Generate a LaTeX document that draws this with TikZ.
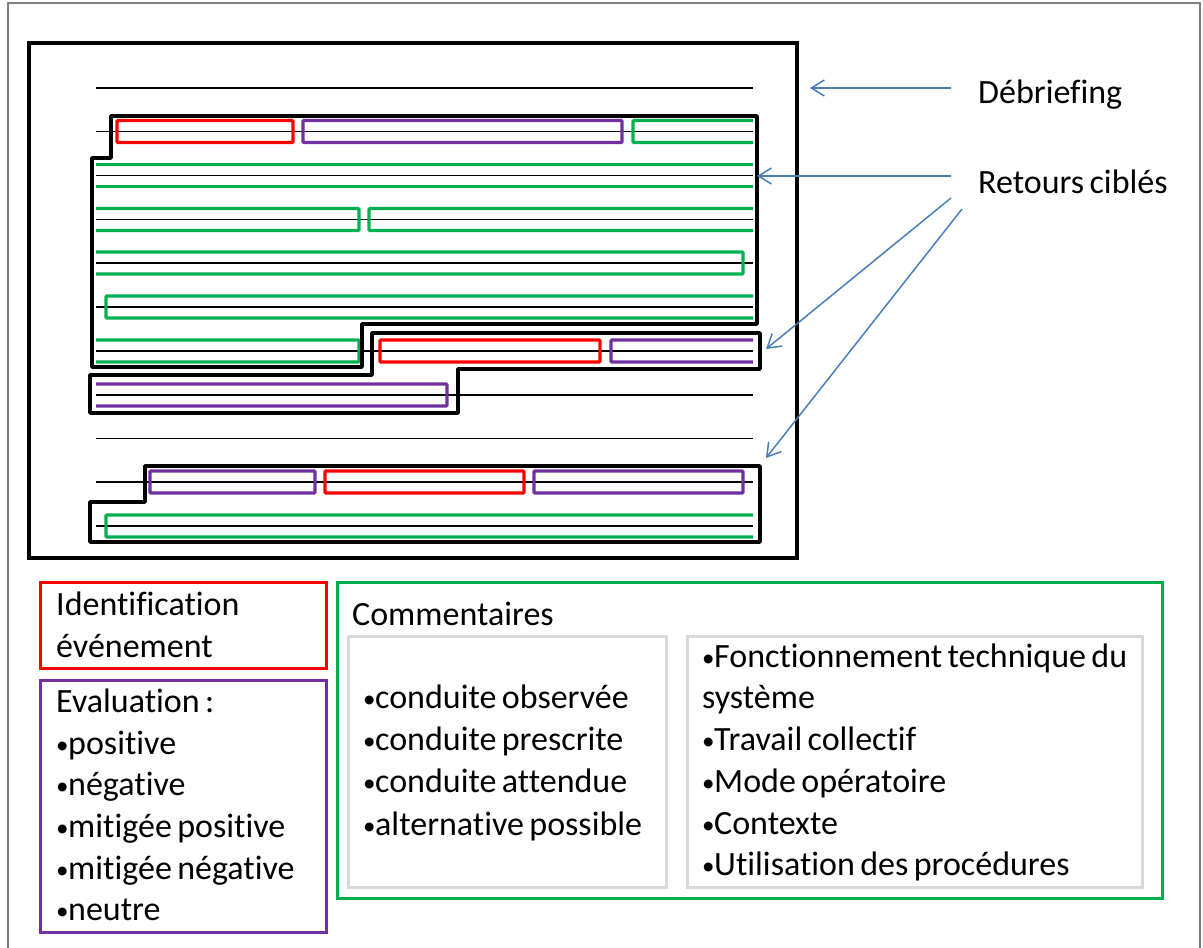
\documentclass[tikz,border=0pt]{standalone}
\usepackage{fontspec}
\setmainfont{Carlito}[Ligatures=CommonOff, WordSpace=0.7]
\usetikzlibrary{arrows.meta}
\definecolor{boxred}{HTML}{FF0000}
\definecolor{boxpurple}{HTML}{7030A0}
\definecolor{boxgreen}{HTML}{00B050}
\definecolor{arrblue}{HTML}{4A7EBB}
\definecolor{boxgray}{HTML}{D9D9D9}
\definecolor{framegray}{HTML}{7F7F7F}
\newcommand{\bul}{\makebox[12pt][l]{\raisebox{0.8pt}{\fontsize{25}{25}\selectfont •}}}
\begin{document}
\begin{tikzpicture}[x=1pt,y=-1pt,
  txtline/.style={line width=1.5pt},
  outl/.style={line width=3.8pt, line join=round},
  rbox/.style={draw=boxred, line width=3.2pt, rounded corners=1pt},
  pbox/.style={draw=boxpurple, line width=3.2pt, rounded corners=1pt},
  gbox/.style={draw=boxgreen, line width=3.2pt, rounded corners=1pt},
  legbox/.style={line width=3pt},
  graybox/.style={draw=boxgray, line width=3pt},
  lbl/.style={anchor=base west, inner sep=0pt, font=\fontsize{34}{40}\selectfont},
  arr/.style={draw=arrblue, line width=1.5pt, -{Straight Barb[length=13pt,width=16pt]}}]
\useasboundingbox (0,0) rectangle (1203,948);
% outer frame
\draw[framegray, line width=1.5pt] (8,960) -- (8,3) -- (1200,3) -- (1200,960);
% big debriefing frame
\draw[line width=3.8pt] (29,43) rectangle (797,558);
% text lines
\foreach \yy in {88,131.5,175.5,219.5,263,307,351,395,438.5,482,526}
  \draw[txtline] (96,\yy) -- (753,\yy);
% line 1
\draw[rbox] (117,120.5) rectangle (293,142.5);
\draw[pbox] (303,120.5) rectangle (622,142.5);
\draw[gbox] (753,120.5) -- (633,120.5) -- (633,142.5) -- (753,142.5);
% line 2
\draw[gbox] (96,164.5) -- (753,164.5);
\draw[gbox] (96,186.5) -- (753,186.5);
% line 3
\draw[gbox] (96,208.5) -- (359,208.5) -- (359,230.5) -- (96,230.5);
\draw[gbox] (753,208.5) -- (369,208.5) -- (369,230.5) -- (753,230.5);
% line 4
\draw[gbox] (96,252) -- (743,252) -- (743,274) -- (96,274);
% line 5
\draw[gbox] (753,296) -- (106,296) -- (106,318) -- (753,318);
% line 6
\draw[gbox] (96,340) -- (359,340) -- (359,362) -- (96,362);
\draw[rbox] (380,340) rectangle (600,362);
\draw[pbox] (753,340) -- (611,340) -- (611,362) -- (753,362);
% line 7
\draw[pbox] (96,384) -- (447,384) -- (447,406) -- (96,406);
% line 9
\draw[pbox] (150,471) rectangle (315,493);
\draw[rbox] (325,471) rectangle (524,493);
\draw[pbox] (534,471) rectangle (743,493);
% line 10
\draw[gbox] (753,515) -- (106,515) -- (106,537) -- (753,537);
% thick outlines of targeted feedback
\draw[outl] (111,116) -- (757,116) -- (757,324) -- (362,324) -- (362,367) -- (92,367) -- (92,158) -- (111,158) -- cycle;
\draw[outl] (372,333) -- (760,333) -- (760,369) -- (458,369) -- (458,413) -- (90,413) -- (90,375) -- (372,375) -- cycle;
\draw[outl] (145,466) -- (760,466) -- (760,542) -- (90,542) -- (90,502) -- (145,502) -- cycle;
% labels and arrows
\node[lbl] (deb) at (978,103) {Débriefing};
\node[lbl] (ret) at (978,193) {Retours ciblés};
\coordinate (debT) at (951,88);
\coordinate (debH) at (810,88);
\coordinate (r1T) at (951,176);
\coordinate (r1H) at (757,176);
\coordinate (r2T) at (951,198);
\coordinate (r2H) at (766,349);
\coordinate (r3T) at (962,209);
\coordinate (r3H) at (766,458);
\draw[arr] (debT) -- (debH);
\draw[arr] (r1T) -- (r1H);
\draw[arr] (r2T) -- (r2H);
\draw[arr] (r3T) -- (r3H);
% legend boxes
\draw[legbox, draw=boxred] (40,582) rectangle (326,668);
\draw[legbox, draw=boxpurple] (40,680) rectangle (326,932);
\draw[legbox, draw=boxgreen] (337,582) rectangle (1162,898);
\draw[graybox] (348,636) rectangle (666,887);
\draw[graybox] (687,636) rectangle (1142,887);
\node[lbl] (id1) at (56,615) {Identification};
\node[lbl] (id2) at (56,657) {événement};
\node[lbl] (ev0) at (56,712) {Evaluation :};
\node[lbl] (ev1) at (56,754) {\bul positive};
\node[lbl] (ev2) at (56,795.5) {\bul négative};
\node[lbl] (ev3) at (56,837) {\bul mitigée positive};
\node[lbl] (ev4) at (56,879) {\bul mitigée négative};
\node[lbl] (ev5) at (56,920) {\bul neutre};
\node[lbl] (com) at (352,625) {Commentaires};
\node[lbl] (cl1) at (363,708) {\bul conduite observée};
\node[lbl] (cl2) at (363,750.5) {\bul conduite prescrite};
\node[lbl] (cl3) at (363,792.5) {\bul conduite attendue};
\node[lbl] (cl4) at (363,835) {\bul alternative possible};
\node[lbl] (cr1) at (702,667) {\bul Fonctionnement technique du};
\node[lbl] (cr2) at (702,708) {système};
\node[lbl] (cr3) at (702,750.5) {\bul Travail collectif};
\node[lbl] (cr4) at (702,792.5) {\bul Mode opératoire};
\node[lbl] (cr5) at (702,834) {\bul Contexte};
\node[lbl] (cr6) at (702,875) {\bul Utilisation des procédures};
\end{tikzpicture}
\end{document}
